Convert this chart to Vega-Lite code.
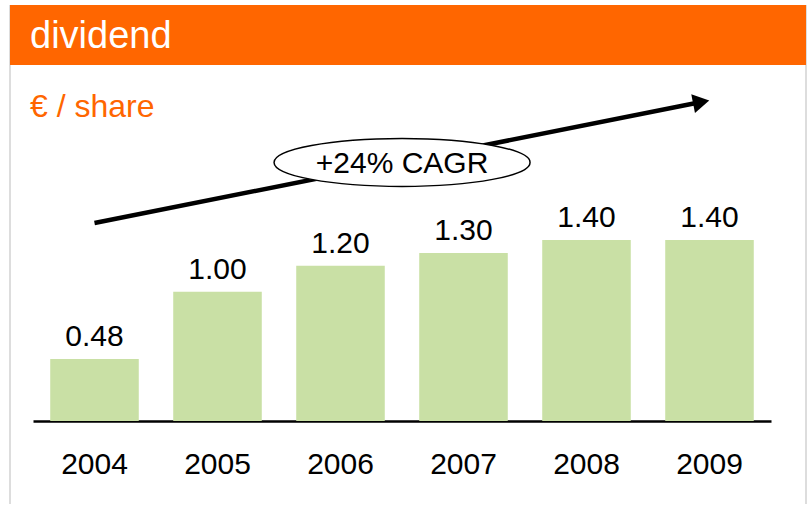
{
  "$schema": "https://vega.github.io/schema/vega-lite/v6.json",
  "width": 796,
  "height": 499,
  "autosize": {"type": "none"},
  "padding": {"left": 10, "top": 5, "right": 3, "bottom": 1},
  "background": "#ffffff",
  "title": {
    "text": "dividend",
    "subtitle": "€ / share",
    "anchor": "start",
    "frame": "group",
    "orient": "top",
    "offset": -118,
    "dx": 20,
    "color": "#ffffff",
    "fontSize": 38,
    "fontWeight": "normal",
    "font": "Liberation Sans",
    "subtitleColor": "#ff6600",
    "subtitleFontSize": 32,
    "subtitleFont": "Liberation Sans",
    "subtitlePadding": 36,
    "zindex": 1
  },
  "config": {
    "font": "Liberation Sans",
    "view": {"stroke": "#dddddd", "strokeWidth": 2, "strokeDash": [0, 796, 499, 796, 499, 0]},
    "axisY": {"disable": true},
    "axisX": {
      "domainColor": "#000000",
      "domainWidth": 2.5,
      "ticks": false,
      "tickSize": 0,
      "labelFontSize": 30,
      "labelColor": "#000000",
      "labelPadding": 28,
      "labelAngle": 0,
      "offset": -83,
      "grid": false,
      "labelFont": "Liberation Sans"
    }
  },
  "datasets": {
    "dividend": [
      {"year": "2004", "value": 0.48},
      {"year": "2005", "value": 1.0},
      {"year": "2006", "value": 1.2},
      {"year": "2007", "value": 1.3},
      {"year": "2008", "value": 1.4},
      {"year": "2009", "value": 1.4}
    ],
    "arrow": [{"year": "2004", "year2": "2009", "start": 1.531, "end": 2.467}],
    "head": [{"year": "2009", "level": 2.467}],
    "growth": [{"year": "2006", "level": 2.0, "label": "+24% CAGR"}],
    "header": [{"section": "dividend"}]
  },
  "layer": [
    {
      "data": {"name": "header"},
      "mark": {"type": "rect", "color": "#ff6600"},
      "encoding": {
        "y": {"datum": 3.2173, "type": "quantitative"},
        "y2": {"datum": 2.7533}
      }
    },
    {
      "data": {"name": "dividend"},
      "mark": {"type": "bar", "color": "#c9e0a5"},
      "encoding": {
        "x": {
          "field": "year",
          "type": "ordinal",
          "title": null,
          "scale": {"type": "band", "range": [23, 761], "paddingInner": 0.28, "paddingOuter": 0.14}
        },
        "y": {
          "field": "value",
          "type": "quantitative",
          "title": null,
          "scale": {"domain": [0, 3.2173], "range": [416, 0], "nice": false, "zero": true}
        }
      }
    },
    {
      "data": {"name": "dividend"},
      "mark": {"type": "text", "fontSize": 30, "baseline": "alphabetic", "dy": -13, "color": "#000000", "font": "Liberation Sans"},
      "encoding": {
        "x": {"field": "year", "type": "ordinal", "title": null},
        "y": {"field": "value", "type": "quantitative", "title": null},
        "text": {"field": "value", "type": "quantitative", "format": ".2f"}
      }
    },
    {
      "data": {"name": "arrow"},
      "mark": {"type": "rule", "color": "#000000", "strokeWidth": 4.5, "strokeCap": "butt"},
      "encoding": {
        "x": {"field": "year", "type": "ordinal", "title": null, "bandPosition": 0.5},
        "x2": {"field": "year2", "bandPosition": 0.406},
        "y": {"field": "start", "type": "quantitative", "title": null},
        "y2": {"field": "end"}
      }
    },
    {
      "data": {"name": "head"},
      "mark": {"type": "point", "shape": "triangle-right", "size": 360, "filled": true, "color": "#000000", "opacity": 1, "angle": 348.7, "strokeWidth": 0},
      "encoding": {
        "x": {"field": "year", "type": "ordinal", "title": null, "bandPosition": 0.406},
        "y": {"field": "level", "type": "quantitative", "title": null}
      }
    },
    {
      "data": {"name": "growth"},
      "mark": {
        "type": "point",
        "shape": "M -1 0 C -1 -0.1036 -0.5523 -0.1875 0 -0.1875 C 0.5523 -0.1875 1 -0.1036 1 0 C 1 0.1036 0.5523 0.1875 0 0.1875 C -0.5523 0.1875 -1 0.1036 -1 0 Z",
        "size": 65536,
        "filled": false,
        "fill": "#ffffff",
        "stroke": "#000000",
        "strokeWidth": 1.5,
        "opacity": 1,
        "fillOpacity": 1
      },
      "encoding": {
        "x": {"field": "year", "type": "ordinal", "title": null, "bandPosition": 1.195},
        "y": {"field": "level", "type": "quantitative", "title": null}
      }
    },
    {
      "data": {"name": "growth"},
      "mark": {"type": "text", "fontSize": 30, "align": "center", "baseline": "middle", "dy": 2, "color": "#000000", "font": "Liberation Sans"},
      "encoding": {
        "x": {"field": "year", "type": "ordinal", "title": null, "bandPosition": 1.195},
        "y": {"field": "level", "type": "quantitative", "title": null},
        "text": {"field": "label", "type": "nominal"}
      }
    }
  ]
}
